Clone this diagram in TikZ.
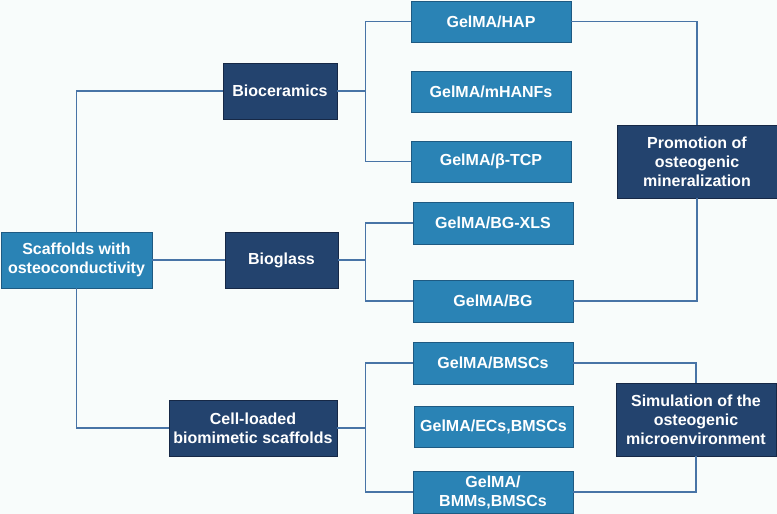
\documentclass[tikz,border=0pt]{standalone}
\usepackage{fontspec}
\setmainfont{Liberation Sans}
\definecolor{bgc}{RGB}{248,252,251}
\definecolor{lightb}{RGB}{42,131,181}
\definecolor{lightbd}{RGB}{30,90,130}
\definecolor{darkb}{RGB}{35,67,110}
\definecolor{darkbd}{RGB}{22,40,70}
\definecolor{linec}{RGB}{72,116,166}
\begin{document}
\begin{tikzpicture}[x=1pt,y=-1pt,
  base/.style={rectangle, draw, line width=0.8pt, text=white, align=center,
    font=\fontsize{16}{19}\selectfont\bfseries, inner sep=0pt},
  lbox/.style={base, fill=lightb, draw=lightbd},
  dbox/.style={base, fill=darkb, draw=darkbd},
  leaf/.style={lbox, minimum width=160pt, minimum height=41pt},
  conn/.style={draw=linec, line width=1.1pt}
]
\fill[bgc] (0,0) rectangle (777,514);
\useasboundingbox (0,0) rectangle (777,514);

\node[lbox, minimum width=151pt, minimum height=56pt] (scaf) at (76.5,260) {Scaffolds with\\osteoconductivity};
\node[dbox, minimum width=114pt, minimum height=56pt] (bioc) at (280,91) {Bioceramics};
\node[dbox, minimum width=113pt, minimum height=56pt] (biogl) at (281.5,260) {Bioglass};
\node[dbox, minimum width=168pt, minimum height=56pt] (cell) at (253,428) {Cell-loaded\\biomimetic scaffolds};

\node[leaf] (hap) at (491,21.5) {GelMA/HAP};
\node[leaf] (mhan) at (491,91.5) {GelMA/mHANFs};
\node[leaf] (tcp) at (491,161.5) {GelMA/β-TCP};
\node[leaf, minimum height=42pt] (xls) at (493,223) {GelMA/BG-XLS};
\node[leaf, minimum height=42pt] (bg) at (493,301) {GelMA/BG};
\node[leaf, minimum height=42pt] (bmsc) at (493,363) {GelMA/BMSCs};
\node[leaf, minimum height=41pt, minimum width=159pt] (ecs) at (493.5,426.5) {GelMA/ECs,BMSCs};
\node[leaf, minimum height=42pt] (bmm) at (493,492) {GelMA/\\BMMs,BMSCs};

\node[dbox, minimum width=160pt, minimum height=73pt] (prom) at (697,161.5) {Promotion of\\osteogenic\\mineralization};
\node[dbox, minimum width=160pt, minimum height=73pt] (sim) at (696,419.5) {Simulation of the\\osteogenic\\microenvironment};

% left tree
\draw[conn] (scaf.north) |- (bioc.west);
\draw[conn] (scaf.east) -- (biogl.west);
\draw[conn] (scaf.south) |- (cell.west);

% bioceramics branch
\draw[conn] (bioc.east) -- ++(28,0) coordinate (b1);
\draw[conn] (hap.west) -| (b1) |- (tcp.west);
% bioglass branch
\draw[conn] (biogl.east) -- ++(27,0) coordinate (b2);
\draw[conn] (xls.west) -| (b2) |- (bg.west);
% cell branch
\draw[conn] (cell.east) -- ++(28,0) coordinate (b3);
\draw[conn] (bmsc.west) -| (b3) |- (bmm.west);

% right side
\draw[conn] (hap.east) -| (prom.north);
\draw[conn] (prom.south) |- (bg.east);
\draw[conn] (bmsc.east) -| (sim.north);
\draw[conn] (sim.south) |- (bmm.east);
\end{tikzpicture}
\end{document}
